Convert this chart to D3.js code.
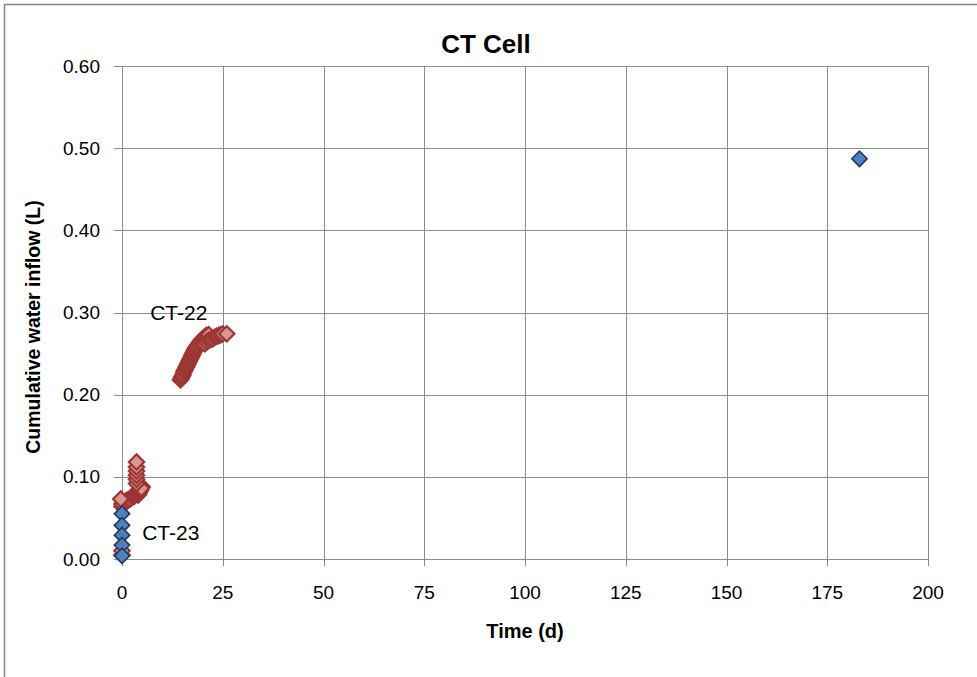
<!DOCTYPE html>
<html>
<head>
<meta charset="utf-8">
<script src="https://cdn.jsdelivr.net/npm/d3@7"></script>
<style>
  html, body { margin: 0; padding: 0; background: #ffffff; }
  svg { display: block; font-family: "Liberation Sans", Arial, sans-serif; }
</style>
</head>
<body>
<svg id="chart" width="977" height="677"></svg>
<script>
// ---- Data ----
const title = "CT Cell";
const xLabel = "Time (d)";
const yLabel = "Cumulative water inflow (L)";
const xTicks = [0, 25, 50, 75, 100, 125, 150, 175, 200];
const yTicks = [0.00, 0.10, 0.20, 0.30, 0.40, 0.50, 0.60];

// CT-22 (red) : time (d), cumulative inflow (L)
const ct22Time = [0, 0, 0, 0, 0.5, 1.0, 1.5, 2.0, 2.5, 3.0, 3.0, 3.2, 3.4, 3.6, 3.8, 4.0, 4.2, 4.4, 4.6, 4.8, 5.0,
  4.0, 4.2, 4.4, 4.6, 4.8, -0.3,
  3.6, 3.6, 3.6, 3.6, 3.6, 3.6,
  14.5, 14.7, 14.9, 15.1, 15.3, 15.5, 15.7, 15.9, 16.1, 16.3, 16.5, 16.7, 16.9, 17.1, 17.3, 17.5, 17.7, 17.9,
  18.1, 18.3, 18.6, 18.9, 19.2, 19.5, 19.8, 20.1, 20.4, 20.7, 21.0, 21.5,
  20.5, 21.0, 21.5, 22.0, 22.5, 23.0, 23.5, 24.0, 24.5, 25.0, 26.0];
const ct22Flow = [0.005, 0.010, 0.064, 0.067, 0.069, 0.071, 0.072, 0.073, 0.075, 0.076, 0.078, 0.079, 0.080, 0.081, 0.082, 0.083, 0.084, 0.085, 0.086, 0.087, 0.088,
  0.078, 0.080, 0.082, 0.084, 0.086, 0.073,
  0.092, 0.097, 0.102, 0.107, 0.112, 0.118,
  0.218, 0.220, 0.222, 0.224, 0.227, 0.229, 0.231, 0.233, 0.235, 0.237, 0.239, 0.241, 0.243, 0.245, 0.247, 0.249, 0.251, 0.253,
  0.255, 0.257, 0.259, 0.261, 0.263, 0.265, 0.267, 0.268, 0.270, 0.271, 0.272, 0.273,
  0.262, 0.264, 0.266, 0.267, 0.268, 0.270, 0.271, 0.272, 0.273, 0.274, 0.274];

// CT-23 (blue)
const ct23Time = [0, 0, 0, 0, 0, 183];
const ct23Flow = [0.055, 0.041, 0.029, 0.017, 0.004, 0.487];

const seriesLabels = [
  { text: "CT-22", t: 7.0, v: 0.300 },
  { text: "CT-23", t: 5.0, v: 0.032 }
];

// ---- Layout ----
const svg = d3.select("#chart");
const plotL = 122, plotR = 928, plotT = 66, plotB = 559;

const x = d3.scaleLinear().domain([0, 200]).range([plotL, plotR]);
const y = d3.scaleLinear().domain([0, 0.6]).range([plotB, plotT]);

const gridColor = "#8c8c8c";

// outer chart border
svg.append("rect")
  .attr("x", 4.5).attr("y", 4.5).attr("width", 1100).attr("height", 800)
  .attr("fill", "#fff").attr("stroke", "#868686").attr("stroke-width", 1.5);

// horizontal gridlines (with outside ticks)
svg.append("g").selectAll("line").data(yTicks).join("line")
  .attr("x1", plotL - 8).attr("x2", plotR)
  .attr("y1", d => Math.round(y(d)) + 0.5).attr("y2", d => Math.round(y(d)) + 0.5)
  .attr("stroke", gridColor).attr("stroke-width", 1);

// vertical gridlines (with outside ticks)
svg.append("g").selectAll("line").data(xTicks).join("line")
  .attr("x1", d => Math.round(x(d)) + 0.5).attr("x2", d => Math.round(x(d)) + 0.5)
  .attr("y1", plotT).attr("y2", plotB + 7)
  .attr("stroke", gridColor).attr("stroke-width", 1);

// y tick labels
svg.append("g").selectAll("text").data(yTicks).join("text")
  .attr("x", plotL - 22).attr("y", d => y(d))
  .attr("dy", "0.35em").attr("text-anchor", "end")
  .attr("font-size", 19).attr("fill", "#000")
  .text(d => d3.format(".2f")(d));

// x tick labels
svg.append("g").selectAll("text").data(xTicks).join("text")
  .attr("x", d => x(d)).attr("y", plotB + 40)
  .attr("text-anchor", "middle")
  .attr("font-size", 19).attr("fill", "#000")
  .text(d => d);

// title
svg.append("text").attr("x", 486).attr("y", 53)
  .attr("text-anchor", "middle").attr("font-size", 26).attr("font-weight", "bold")
  .text(title);

// axis titles
svg.append("text").attr("x", 525).attr("y", 638)
  .attr("text-anchor", "middle").attr("font-size", 20).attr("font-weight", "bold")
  .text(xLabel);
svg.append("text")
  .attr("transform", "translate(40," + 327 + ") rotate(-90)")
  .attr("text-anchor", "middle").attr("font-size", 19.5).attr("font-weight", "bold")
  .text(yLabel);

// markers
const diamond = d3.symbol().type(d3.symbolSquare).size(118);

const ct22 = ct22Time.map((t, i) => ({ t, v: ct22Flow[i] }));
const ct23 = ct23Time.map((t, i) => ({ t, v: ct23Flow[i] }));

svg.append("g").selectAll("path").data(ct22).join("path")
  .attr("d", diamond)
  .attr("transform", d => `translate(${x(d.t)},${y(d.v)}) rotate(45)`)
  .attr("fill", "#DA9694").attr("stroke", "#9C3634").attr("stroke-width", 2.2);

svg.append("g").selectAll("path").data(ct23).join("path")
  .attr("d", diamond)
  .attr("transform", d => `translate(${x(d.t)},${y(d.v)}) rotate(45)`)
  .attr("fill", "#4F81BD").attr("stroke", "#1F3A60").attr("stroke-width", 1.6);

// series labels
svg.append("g").selectAll("text").data(seriesLabels).join("text")
  .attr("x", d => x(d.t)).attr("y", d => y(d.v))
  .attr("dy", "0.35em")
  .attr("font-size", 21).attr("fill", "#000")
  .text(d => d.text);
</script>
</body>
</html>
